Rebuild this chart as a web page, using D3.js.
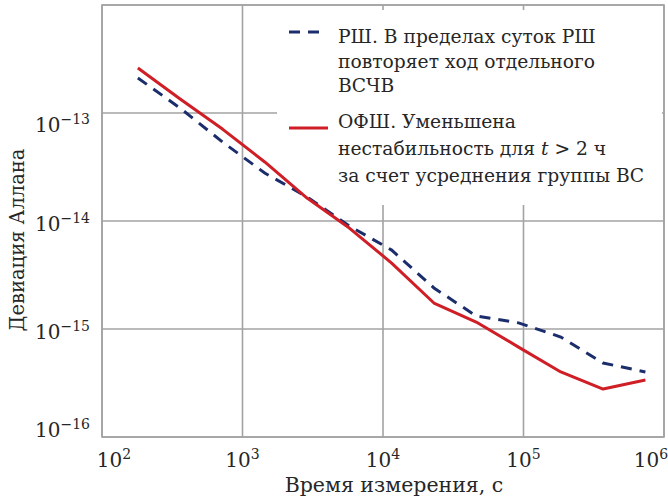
<!DOCTYPE html>
<html>
<head>
<meta charset="utf-8">
<script src="https://cdn.jsdelivr.net/npm/d3@7"></script>
<style>
  html, body { margin: 0; padding: 0; background: #fff; }
  svg { display: block; font-family: "DejaVu Serif", "Liberation Serif", serif; }
</style>
</head>
<body>
<svg id="chart" width="668" height="504"></svg>
<script>
// Averaging time, s
const tau = [180, 360, 720, 1440, 2880, 5760, 11520, 23040, 46080, 92160, 184320, 368640, 737280];
// Allan deviation, time scale (РШ)
const rshValues = [2.11e-13, 1.11e-13, 5.39e-14, 2.78e-14, 1.67e-14, 9.0e-15, 5.38e-15, 2.40e-15, 1.32e-15, 1.14e-15, 8.43e-16, 4.84e-16, 4.0e-16];
// Allan deviation, group-averaged scale (ОФШ)
const ofshValues = [2.61e-13, 1.35e-13, 7.1e-14, 3.52e-14, 1.63e-14, 8.6e-15, 4.08e-15, 1.74e-15, 1.16e-15, 6.8e-16, 4.0e-16, 2.78e-16, 3.37e-16];

const xTickValues = [1e2, 1e3, 1e4, 1e5, 1e6];
const xTickExponents = ["2", "3", "4", "5", "6"];
const yTickValues = [1e-13, 1e-14, 1e-15, 1e-16];
const yTickExponents = ["\u221213", "\u221214", "\u221215", "\u221216"];
const yGridValues = [1e-12, 1e-13, 1e-14, 1e-15, 1e-16];

const xTitle = "Время измерения, с";
const yTitle = "Девиация Аллана";
const legendRsh = ["РШ. В пределах суток РШ", "повторяет ход отдельного", "ВСЧВ"];
const legendOfsh = ["ОФШ. Уменьшена", null, "за счет усреднения группы ВС"];

const svg = d3.select("#chart");
const plot = { left: 102, right: 664, top: 5, bottom: 437 };

const x = d3.scaleLog().domain([1e2, 1e6]).range([plot.left, plot.right]);
const y = d3.scaleLog().domain([1e-16, 1e-12]).range([plot.bottom, plot.top]);

const gridColor = "#a3a3a3";
const red = "#cf1e26";
const navy = "#1b2d6b";
const ink = "#262626";

// Grid
const grid = svg.append("g").attr("stroke", gridColor).attr("stroke-width", 1.6);
grid.selectAll("line.v").data(xTickValues).join("line")
  .attr("x1", d => x(d)).attr("x2", d => x(d))
  .attr("y1", plot.top).attr("y2", plot.bottom);
grid.selectAll("line.h").data(yGridValues).join("line")
  .attr("x1", plot.left).attr("x2", plot.right)
  .attr("y1", d => y(d)).attr("y2", d => y(d));

// Legend panel (white, hides the grid beneath it)
const legend = svg.append("g");
legend.append("rect")
  .attr("x", 277).attr("y", 10).attr("width", 385).attr("height", 195)
  .attr("fill", "#fff");

// Tick labels
const yAxis = svg.append("g").attr("font-size", 20).attr("fill", ink);
yTickValues.forEach((v, i) => {
  const shift = i === 0 ? 19 : (i === yTickValues.length - 1 ? 0 : 10);
  const t = yAxis.append("text")
    .attr("x", 90).attr("y", y(v) + shift)
    .attr("text-anchor", "end");
  t.append("tspan").text("10");
  t.append("tspan").attr("dy", -8).attr("font-size", 14).text(yTickExponents[i]);
});

const xAxis = svg.append("g").attr("font-size", 20).attr("fill", ink);
xTickValues.forEach((v, i) => {
  const shift = i === 0 ? 12 : (i === xTickValues.length - 1 ? -13 : 0);
  const t = xAxis.append("text")
    .attr("x", x(v) + shift).attr("y", 467)
    .attr("text-anchor", "middle");
  t.append("tspan").text("10");
  t.append("tspan").attr("dy", -8).attr("font-size", 14).text(xTickExponents[i]);
});

// Axis titles
svg.append("text")
  .attr("x", 394).attr("y", 492)
  .attr("text-anchor", "middle").attr("font-size", 20.5).attr("fill", ink)
  .text(xTitle);
svg.append("text")
  .attr("transform", "translate(24,240) rotate(-90)")
  .attr("text-anchor", "middle").attr("font-size", 19.5).attr("fill", ink)
  .text(yTitle);

// Legend entries
const legendText = legend.append("g").attr("font-size", 18.7).attr("fill", ink);
legendRsh.forEach((s, i) => {
  legendText.append("text").attr("x", 338).attr("y", 43 + i * 24.5).text(s);
});
[128, 155, 182].forEach((yy, i) => {
  const t = legendText.append("text").attr("x", 338).attr("y", yy);
  if (legendOfsh[i] !== null) {
    t.text(legendOfsh[i]);
  } else {
    t.append("tspan").text("нестабильность для ");
    t.append("tspan").attr("font-style", "italic").text("t");
    t.append("tspan").text(" > 2 ч");
  }
});
legend.append("line")
  .attr("x1", 289).attr("x2", 322).attr("y1", 32).attr("y2", 32)
  .attr("stroke", navy).attr("stroke-width", 3).attr("stroke-dasharray", "11,8");
legend.append("line")
  .attr("x1", 289).attr("x2", 328).attr("y1", 128).attr("y2", 128)
  .attr("stroke", red).attr("stroke-width", 3);

// Plot frame
svg.append("rect")
  .attr("x", plot.left).attr("y", plot.top)
  .attr("width", plot.right - plot.left).attr("height", plot.bottom - plot.top)
  .attr("fill", "none").attr("stroke", gridColor).attr("stroke-width", 1.6);

// Series
const line = d3.line().x(d => x(d[0])).y(d => y(d[1]));
svg.append("path")
  .datum(d3.zip(tau, rshValues))
  .attr("d", line)
  .attr("fill", "none").attr("stroke", navy).attr("stroke-width", 3)
  .attr("stroke-dasharray", "11,8");
svg.append("path")
  .datum(d3.zip(tau, ofshValues))
  .attr("d", line)
  .attr("fill", "none").attr("stroke", red).attr("stroke-width", 3)
  .attr("stroke-linejoin", "round");
</script>
</body>
</html>
